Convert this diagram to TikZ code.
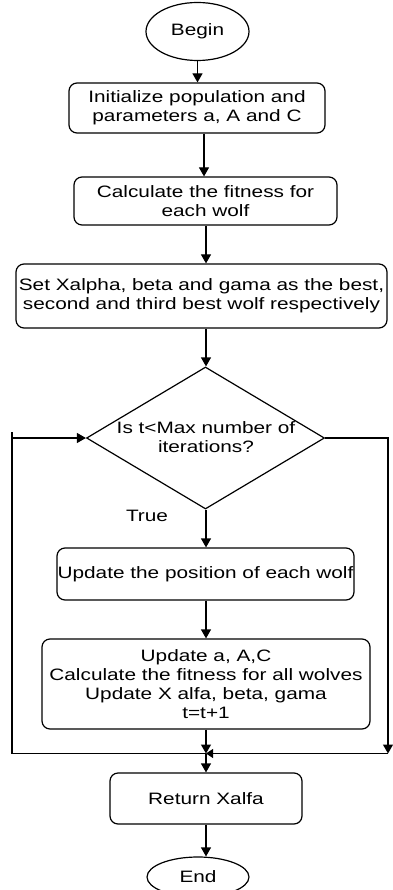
\documentclass[tikz,border=0pt]{standalone}
\usepackage{fontspec}
\setmainfont[FakeStretch=1.26]{Liberation Sans}
\usetikzlibrary{shapes.geometric,arrows.meta}
\begin{document}
\begin{tikzpicture}[x=1pt,y=-1pt,
  every node/.style={font=\fontsize{16.5}{19}\selectfont, align=center, inner sep=0pt},
  proc/.style={draw, line width=1.2pt, rounded corners=8pt},
  term/.style={draw, line width=1.2pt, ellipse},
  dec/.style={draw, line width=1.2pt, diamond, aspect=1.68},
  conn/.style={line width=1.2pt, -{Triangle[length=9pt,width=10pt]}},
  plain/.style={line width=1.2pt}]
\useasboundingbox (0,0) rectangle (392,890);
\node[term, minimum width=103pt, minimum height=58pt] (begin) at (197.5,31.5) {Begin};
\node[proc, minimum width=256pt, minimum height=50pt] (init) at (197,108) {Initialize population and\\parameters a, A and C};
\node[proc, minimum width=263pt, minimum height=48pt] (fit) at (205.5,201) {Calculate the fitness for\\each wolf};
\node[proc, minimum width=371pt, minimum height=64pt] (set) at (201.5,296) {Set Xalpha, beta and gama as the best,\\second and third best wolf respectively};
\node[dec, minimum width=238pt, minimum height=142pt] (cond) at (205.5,438) {};
\node at (206,437) {Is t<Max number of\\iterations?};
\node (true) at (147,516) {True};
\node[proc, minimum width=297pt, minimum height=52pt] (upd) at (205.5,574) {Update the position of each wolf};
\node[proc, minimum width=328pt, minimum height=90pt] (upd2) at (206,684) {Update a, A,C\\Calculate the fitness for all wolves\\Update X alfa, beta, gama\\t=t+1};
\node[proc, minimum width=192pt, minimum height=51pt] (ret) at (206,798.5) {Return Xalfa};
\node[term, minimum width=102pt, minimum height=40pt] (end) at (198,877) {End};

\coordinate (jn) at (206,753.5);
\coordinate (rt) at (388,438);
\coordinate (rb) at (388,753.5);
\coordinate (lb) at (12,753.5);
\coordinate (lt) at (12,432);
\coordinate (lm) at (12,438);

\draw[conn] (begin.south) -- (init.north -| begin.south);
\draw[conn] (init.south -| 204,0) -- (fit.north -| 204,0);
\draw[conn] (fit.south -| 206,0) -- (set.north -| 206,0);
\draw[conn] (set.south -| 206,0) -- (cond.north -| 206,0);
\draw[conn] (cond.south -| 206,0) -- (upd.north -| 206,0);
\draw[conn] (upd.south -| 206,0) -- (upd2.north -| 206,0);
\draw[conn] (upd2.south -| jn) -- (jn);
\draw[conn] (jn) -- (ret.north -| jn);
\draw[conn] (ret.south -| jn) -- (end.north -| jn);
\draw[conn] (cond.east) -- (rt) -- (rb);
\draw[plain, -{Triangle[length=7pt,width=9pt]}] (rb) -- (jn);
\draw[plain] (jn) -- (lb) -- (lt);
\draw[conn] (lm) -- (cond.west);
\end{tikzpicture}
\end{document}
